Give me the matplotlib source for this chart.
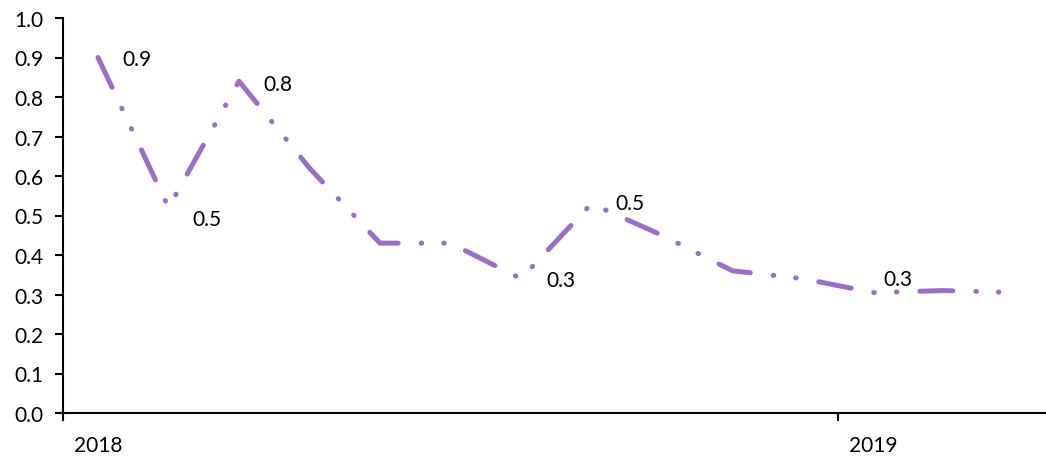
import matplotlib
matplotlib.use("Agg")
import matplotlib.pyplot as plt
from matplotlib.ticker import FixedLocator, NullFormatter

# ---- data ----
periods = ["2018-02", "2018-03", "2018-04", "2018-05", "2018-06", "2018-07", "2018-08",
           "2018-09", "2018-10", "2018-11", "2018-12", "2019-01", "2019-02", "2019-03"]
values = [0.90, 0.52, 0.84, 0.62, 0.43, 0.43, 0.34, 0.53, 0.45, 0.36, 0.34, 0.305, 0.31, 0.305]
year_labels = ["2018", "2019"]
year_label_idx = [0, 11]
labelled_idx = [0, 1, 2, 6, 7, 11]
yticks = [round(0.1 * i, 1) for i in range(11)]

# ---- style ----
color = "#9a70c6"
label_offsets = [(24, -1.5), (24, -11), (24, -2.5), (25, -1), (24, 1), (10, 14)]  # pixels
plt.rcParams['font.family'] = ['Lato', 'DejaVu Sans']
plt.rcParams['lines.scale_dashes'] = False
FS = 15

W, H = 1046, 460
fig = plt.figure(figsize=(W / 100, H / 100), dpi=100)
ax = fig.add_axes([62.75 / W, 46 / H, 987 / W, 395 / H])

x = list(range(len(values)))
px2pt = 0.72
dash = [33 * px2pt, 23 * px2pt, 0.4, 22 * px2pt, 0.4, 23 * px2pt]
ax.plot(x, values, color=color, linewidth=5 * px2pt, dashes=dash,
        solid_capstyle='round', dash_capstyle='round', solid_joinstyle='round',
        dash_joinstyle='round', clip_on=False)

for i, (dx, dy) in zip(labelled_idx, label_offsets):
    ax.annotate(f"{values[i]:.1f}", (x[i], values[i]), xytext=(dx, dy),
                textcoords='offset pixels', ha='left', va='center',
                fontsize=FS, color='black')

ax.set_xlim(-0.5, len(values) - 0.5)
ax.set_ylim(0, 1.0)
ax.set_yticks(yticks)
ax.set_yticklabels([f"{v:.1f}" for v in yticks])

# x axis: ticks at year boundaries, labels at first period of each year
ax.xaxis.set_major_locator(FixedLocator([-0.5, year_label_idx[1] - 0.5]))
ax.xaxis.set_major_formatter(NullFormatter())
ax.xaxis.set_minor_locator(FixedLocator(year_label_idx))
ax.set_xticklabels(year_labels, minor=True)
ax.tick_params(axis='x', which='major', direction='out', length=6, width=1.5, color='black')
ax.tick_params(axis='x', which='minor', length=0, pad=15.5, labelsize=FS)
ax.tick_params(axis='y', direction='out', length=6, width=1.5, pad=8, labelsize=FS)

for s in ['top', 'right']:
    ax.spines[s].set_visible(False)
for s in ['left', 'bottom']:
    ax.spines[s].set_linewidth(1.5)
    ax.spines[s].set_color('black')

fig.savefig("out.png", dpi=100)
